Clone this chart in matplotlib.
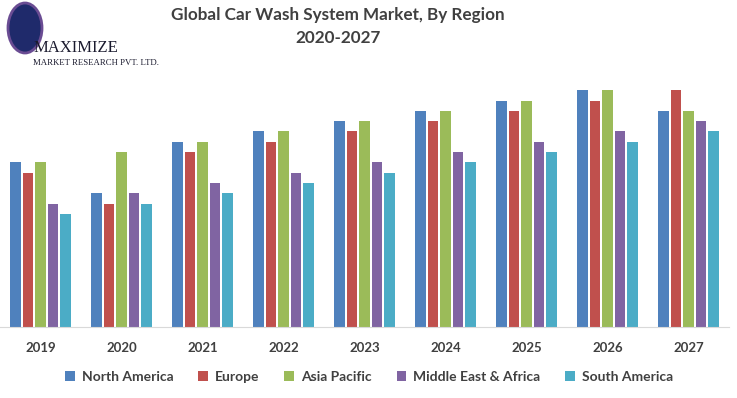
import numpy as np
import matplotlib.pyplot as plt
from matplotlib.patches import Ellipse

years = ["2019", "2020", "2021", "2022", "2023", "2024", "2025", "2026", "2027"]
regions = ["North America", "Europe", "Asia Pacific", "Middle East & Africa", "South America"]

north_america = [16, 13, 18, 19, 20, 21, 22, 23, 21]
europe = [15, 12, 17, 18, 19, 20, 21, 22, 23]
asia_pacific = [16, 17, 18, 19, 20, 21, 22, 23, 21]
middle_east_africa = [12, 13, 14, 15, 16, 17, 18, 19, 20]
south_america = [11, 12, 13, 14, 15, 16, 17, 18, 19]

series = [north_america, europe, asia_pacific, middle_east_africa, south_america]
colors = ["#4F81BD", "#C0504D", "#9BBB59", "#8064A2", "#4BACC6"]

txt = "#404040"
plt.rcParams['font.family'] = ['Lato', 'DejaVu Sans']

fig = plt.figure(figsize=(7.37, 3.98), dpi=100)
ax = fig.add_axes([0.0, (398 - 327) / 398, 729 / 737, (327 - 80) / 398])

x = np.arange(len(years))
pitch = 0.154
width = 0.125
for i, (vals, c) in enumerate(zip(series, colors)):
    ax.bar(x + (i - 2) * pitch, vals, width, color=c, label=regions[i])

ax.set_xlim(-0.5, len(years) - 0.5)
ax.set_ylim(0, 24)
ax.set_xticks(x)
ax.set_xticklabels(years, fontsize=9.5, fontweight='bold', color=txt)
ax.tick_params(axis='x', length=0, pad=11)
ax.set_yticks([])
for s in ['left', 'right', 'top']:
    ax.spines[s].set_visible(False)
ax.spines['bottom'].set_color('#D9D9D9')

fig.text(338 / 737, 1 - 15 / 398, "Global Car Wash System Market, By Region", ha='center', va='center',
         fontsize=12.3, fontweight='bold', color=txt)
fig.text(338 / 737, 1 - 38 / 398, "2020-2027", ha='center', va='center',
         fontsize=12.3, fontweight='bold', color=txt)

leg = fig.legend(loc='center', bbox_to_anchor=(369 / 737, 1 - 377 / 398), ncol=5, frameon=False,
                 handlelength=0.7, handleheight=0.7, handletextpad=0.5, columnspacing=1.8,
                 prop={'weight': 'bold', 'size': 10})
for t in leg.get_texts():
    t.set_color(txt)

# logo
glob = Ellipse((25 / 737, 1 - 28 / 398), 34 / 737, 50 / 398, transform=fig.transFigure,
               facecolor='#1F2A6B', edgecolor='#6A4C93', lw=2)
fig.patches.append(glob)
fig.text(34 / 737, 1 - 48 / 398, "MAXIMIZE", fontsize=12, family='Liberation Serif',
         color='#1a1a2e', va='center', ha='left')
fig.text(33 / 737, 1 - 63 / 398, "MARKET RESEARCH PVT. LTD.", fontsize=6.3, family='Liberation Serif',
         color='#1a1a2e', va='center', ha='left')

fig.savefig("out.png", dpi=100)
